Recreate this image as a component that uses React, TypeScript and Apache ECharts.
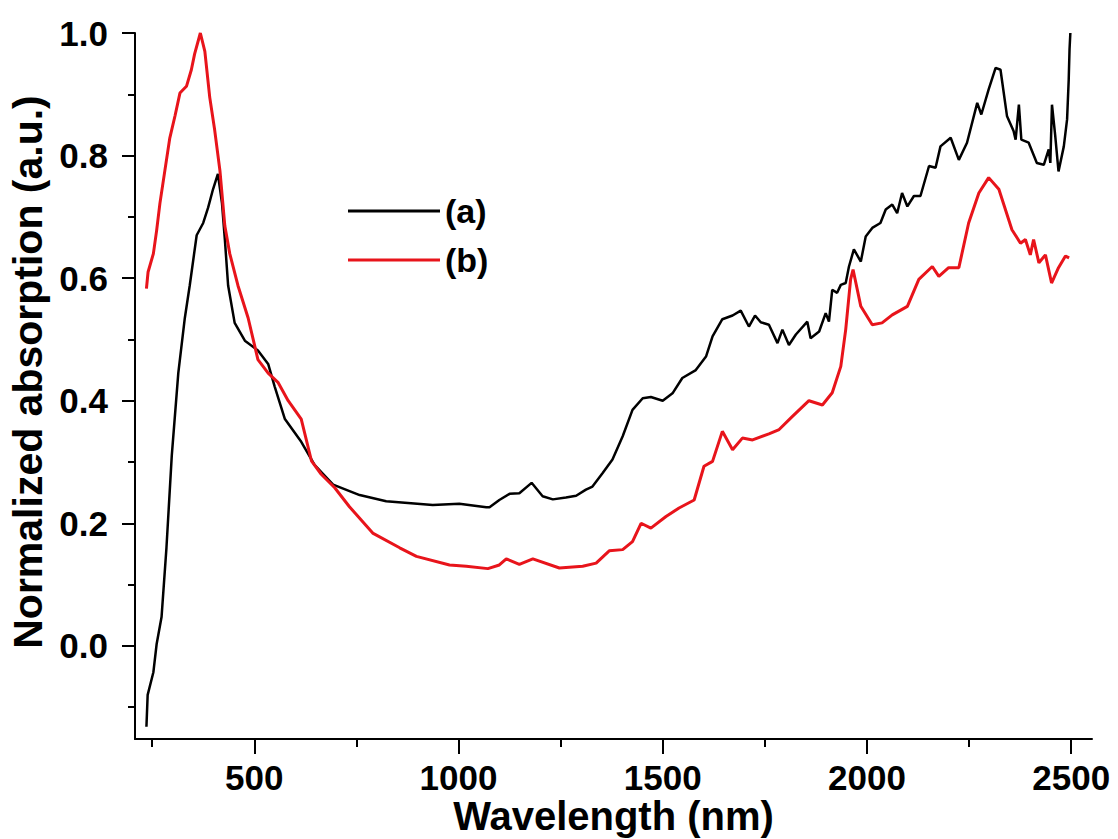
import React, { useEffect, useRef } from "react";
import * as echarts from "echarts";

const waveA = [236, 239, 253, 261, 273, 285, 298, 314, 330, 342, 359, 375, 387, 399, 411, 421, 428, 436, 452, 477, 509, 534, 550, 575, 615, 648, 693, 758, 823, 937, 1002, 1068, 1076, 1100, 1125, 1149, 1179, 1206, 1231, 1263, 1288, 1312, 1328, 1353, 1377, 1402, 1426, 1451, 1471, 1500, 1524, 1548, 1581, 1606, 1622, 1646, 1671, 1691, 1711, 1726, 1740, 1760, 1781, 1793, 1809, 1826, 1854, 1862, 1883, 1899, 1907, 1915, 1927, 1936, 1948, 1956, 1968, 1985, 1997, 2013, 2033, 2046, 2062, 2074, 2086, 2099, 2115, 2131, 2152, 2168, 2180, 2205, 2225, 2245, 2270, 2280, 2298, 2315, 2327, 2343, 2359, 2364, 2372, 2378, 2396, 2416, 2433, 2445, 2449, 2453, 2461, 2469, 2482, 2490, 2494, 2496, 2498];
const absA = [-0.132, -0.08, -0.043, 0.003, 0.047, 0.16, 0.31, 0.445, 0.535, 0.588, 0.67, 0.69, 0.715, 0.745, 0.77, 0.722, 0.663, 0.588, 0.527, 0.498, 0.482, 0.46, 0.423, 0.37, 0.333, 0.295, 0.263, 0.246, 0.236, 0.23, 0.232, 0.226, 0.226, 0.238, 0.248, 0.249, 0.266, 0.244, 0.239, 0.242, 0.245, 0.255, 0.26, 0.282, 0.304, 0.342, 0.385, 0.404, 0.406, 0.4, 0.412, 0.437, 0.45, 0.472, 0.505, 0.533, 0.539, 0.547, 0.521, 0.539, 0.528, 0.524, 0.494, 0.516, 0.491, 0.508, 0.529, 0.502, 0.513, 0.543, 0.529, 0.581, 0.576, 0.589, 0.592, 0.619, 0.647, 0.627, 0.668, 0.682, 0.69, 0.712, 0.72, 0.706, 0.739, 0.717, 0.734, 0.734, 0.783, 0.78, 0.815, 0.829, 0.793, 0.821, 0.886, 0.867, 0.908, 0.943, 0.94, 0.864, 0.84, 0.826, 0.883, 0.826, 0.821, 0.788, 0.785, 0.81, 0.788, 0.883, 0.832, 0.774, 0.815, 0.859, 0.924, 0.973, 1.0];

const waveB = [236, 240, 253, 261, 269, 281, 293, 306, 318, 334, 346, 354, 368, 379, 391, 403, 416, 428, 440, 460, 485, 509, 534, 558, 583, 615, 640, 664, 697, 733, 790, 856, 897, 978, 1019, 1072, 1100, 1117, 1149, 1182, 1247, 1304, 1337, 1369, 1402, 1426, 1447, 1471, 1508, 1540, 1577, 1601, 1622, 1646, 1671, 1695, 1720, 1760, 1785, 1817, 1858, 1891, 1915, 1936, 1948, 1960, 1966, 1985, 2013, 2037, 2062, 2099, 2127, 2160, 2176, 2200, 2225, 2249, 2274, 2298, 2323, 2355, 2376, 2388, 2400, 2408, 2421, 2437, 2452, 2469, 2486, 2495];
const absB = [0.583, 0.61, 0.64, 0.678, 0.722, 0.775, 0.828, 0.865, 0.902, 0.913, 0.94, 0.966, 1.0, 0.97, 0.895, 0.842, 0.775, 0.685, 0.64, 0.588, 0.535, 0.467, 0.445, 0.43, 0.4, 0.37, 0.302, 0.28, 0.258, 0.227, 0.184, 0.16, 0.146, 0.132, 0.13, 0.126, 0.132, 0.142, 0.133, 0.142, 0.127, 0.13, 0.135, 0.155, 0.157, 0.17, 0.2, 0.192, 0.211, 0.225, 0.238, 0.293, 0.301, 0.35, 0.32, 0.339, 0.336, 0.346, 0.353, 0.374, 0.4, 0.393, 0.413, 0.456, 0.516, 0.598, 0.614, 0.554, 0.524, 0.527, 0.54, 0.554, 0.598, 0.619, 0.603, 0.617, 0.617, 0.69, 0.739, 0.764, 0.745, 0.679, 0.657, 0.663, 0.638, 0.663, 0.625, 0.638, 0.592, 0.617, 0.636, 0.633];

const seriesNames = ["(a)", "(b)"];
const xMajorTicks = [500, 1000, 1500, 2000, 2500];
const xMinorTicks = [250, 750, 1250, 1750, 2250];
const yMajorTicks = [0, 0.2, 0.4, 0.6, 0.8, 1.0];
const yMinorTicks = [-0.1, 0.1, 0.3, 0.5, 0.7, 0.9];

const FONT = "'Liberation Sans', Arial, sans-serif";

export default function App() {
  const ref = useRef<HTMLDivElement>(null);
  useEffect(() => {
    if (!ref.current) return;
    const chart = echarts.init(ref.current, undefined, { renderer: "svg" });
    const xMin = 208, xMax = 2551, yMin = -0.152, yMax = 1.0;
    const axisLine = { show: true, onZero: false, lineStyle: { color: "#000", width: 2 } };
    chart.setOption({
      animation: false,
      backgroundColor: "#fff",
      grid: { left: 135, right: 26, top: 33, bottom: 100, containLabel: false, outerBoundsMode: "none" },
      legend: {
        orient: "vertical",
        left: 343,
        top: 189,
        icon: "rect",
        itemWidth: 92,
        itemHeight: 3,
        itemGap: 15,
        itemTextGap: 12,
        textStyle: { fontFamily: FONT, fontWeight: "bold", fontSize: 34, color: "#000", lineHeight: 34 },
        data: seriesNames,
      },
      xAxis: [
        {
          type: "value", min: xMin, max: xMax, position: "bottom",
          name: "Wavelength (nm)", nameLocation: "middle", nameGap: 57, nameMoveOverlap: false,
          nameTextStyle: { fontFamily: FONT, fontWeight: "bold", fontSize: 40, lineHeight: 40, color: "#000", verticalAlign: "top" },
          axisLine,
          splitLine: { show: false },
          axisTick: { show: true, customValues: xMajorTicks, length: 15, lineStyle: { color: "#000", width: 2 } },
          axisLabel: {
            customValues: xMajorTicks, margin: 21,
            formatter: (v: number) => String(v),
            fontFamily: FONT, fontWeight: "bold", fontSize: 35, lineHeight: 35, color: "#000",
          },
        },
        {
          type: "value", min: xMin, max: xMax, position: "bottom",
          axisLine: { show: false, onZero: false },
          splitLine: { show: false },
          axisTick: { show: true, customValues: xMinorTicks, length: 8, lineStyle: { color: "#000", width: 2 } },
          axisLabel: { show: false },
        },
      ],
      yAxis: [
        {
          type: "value", min: yMin, max: yMax, position: "left",
          name: "Normalized absorption (a.u.)", nameLocation: "middle", nameGap: 86, nameRotate: 90,
          nameTextStyle: { fontFamily: FONT, fontWeight: "bold", fontSize: 41, color: "#000", padding: [0, 0, 0, 28] },
          axisLine,
          splitLine: { show: false },
          axisTick: { show: true, customValues: yMajorTicks, length: 13, lineStyle: { color: "#000", width: 2 } },
          axisLabel: {
            customValues: yMajorTicks, margin: 27,
            formatter: (v: number) => v.toFixed(1),
            fontFamily: FONT, fontWeight: "bold", fontSize: 35, color: "#000",
          },
        },
        {
          type: "value", min: yMin, max: yMax, position: "left",
          axisLine: { show: false, onZero: false },
          splitLine: { show: false },
          axisTick: { show: true, customValues: yMinorTicks, length: 7, lineStyle: { color: "#000", width: 2 } },
          axisLabel: { show: false },
        },
      ],
      series: [
        {
          name: seriesNames[0], type: "line", xAxisIndex: 0, yAxisIndex: 0,
          data: waveA.map((w, i) => [w, absA[i]]),
          symbol: "none", lineStyle: { color: "#000", width: 2.5 }, itemStyle: { color: "#000" },
        },
        {
          name: seriesNames[1], type: "line", xAxisIndex: 0, yAxisIndex: 0,
          data: waveB.map((w, i) => [w, absB[i]]),
          symbol: "none", lineStyle: { color: "#e8141b", width: 3 }, itemStyle: { color: "#e8141b" },
        },
      ],
    });
    return () => chart.dispose();
  }, []);
  return <div ref={ref} style={{ position: "fixed", left: 0, top: 0, width: 1118, height: 839 }} />;
}
